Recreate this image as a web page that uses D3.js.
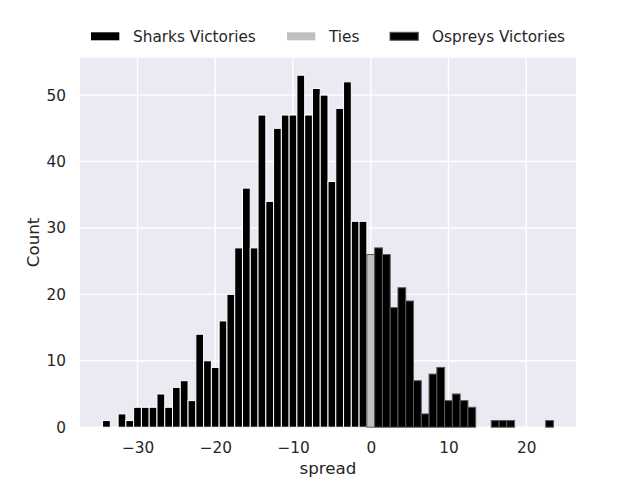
<!DOCTYPE html>
<html>
<head>
<meta charset="utf-8">
<script src="https://cdn.jsdelivr.net/npm/d3@7"></script>
<style>
  html, body { margin: 0; padding: 0; background: #ffffff; }
  svg { display: block; font-family: "DejaVu Sans", sans-serif; }
</style>
</head>
<body>
<svg id="chart" width="640" height="480"></svg>
<script>
// ---- data ----
const spreads = [-34,-33,-32,-31,-30,-29,-28,-27,-26,-25,-24,-23,-22,-21,-20,-19,-18,-17,-16,-15,-14,-13,-12,-11,-10,-9,-8,-7,-6,-5,-4,-3,-2,-1,0,1,2,3,4,5,6,7,8,9,10,11,12,13,14,15,16,17,18,19,20,21,22,23];
const counts  = [1,0,2,1,3,3,3,5,3,6,7,4,14,10,9,16,20,27,36,27,47,34,45,47,47,53,47,51,50,37,48,52,31,31,26,27,26,18,21,19,7,2,8,9,4,5,4,3,0,0,1,1,1,0,0,0,0,1];
const xTicks = [-30, -20, -10, 0, 10, 20];
const yTicks = [0, 10, 20, 30, 40, 50];
const seriesNames = ["Sharks Victories", "Ties", "Ospreys Victories"];
const seriesFill = ["#000000", "#c0c0c0", "#000000"];
const seriesEdge = ["#ffffff", "#5a5a5a", "#5a5a5a"];
const xLabel = "spread";
const yLabel = "Count";

// ---- layout ----
const svg = d3.select("#chart");
const L = 80, R = 576, T = 57.6, B = 427.2;
const binW = 1;
const xMin = d3.min(spreads) - binW / 2, xMax = d3.max(spreads) + binW / 2;
const xPad = (xMax - xMin) * 0.05;
const x = d3.scaleLinear().domain([xMin - xPad, xMax + xPad]).range([L, R]);
const y = d3.scaleLinear().domain([0, d3.max(counts) * 1.05]).range([B, T]);

const textColor = "#262626";

// background
svg.append("rect").attr("x", L).attr("y", T).attr("width", R - L).attr("height", B - T).attr("fill", "#eaeaf2");

// grid
const grid = svg.append("g");
grid.selectAll(".gx").data(xTicks).join("line")
  .attr("x1", d => x(d)).attr("x2", d => x(d)).attr("y1", T).attr("y2", B)
  .attr("stroke", "#ffffff").attr("stroke-width", 1.4);
grid.selectAll(".gy").data(yTicks).join("line")
  .attr("x1", L).attr("x2", R).attr("y1", d => y(d)).attr("y2", d => y(d))
  .attr("stroke", "#ffffff").attr("stroke-width", 1.4);

// bars
const data = spreads.map((s, i) => ({ s, c: counts[i], k: s < 0 ? 0 : (s === 0 ? 1 : 2) }))
  .filter(d => d.c > 0);
svg.append("g").selectAll("rect").data(data).join("rect")
  .attr("x", d => x(d.s - binW / 2))
  .attr("width", d => x(d.s + binW / 2) - x(d.s - binW / 2))
  .attr("y", d => y(d.c))
  .attr("height", d => y(0) - y(d.c))
  .attr("fill", d => seriesFill[d.k])
  .attr("stroke", d => seriesEdge[d.k])
  .attr("stroke-width", 1);

// axes
const xAxis = d3.axisBottom(x).tickValues(xTicks).tickSize(0).tickPadding(14.6);
const gx = svg.append("g").attr("transform", `translate(0,${B})`).call(xAxis);
const yAxis = d3.axisLeft(y).tickValues(yTicks).tickSize(0).tickPadding(14);
const gy = svg.append("g").attr("transform", `translate(${L},0)`).call(yAxis);
[gx, gy].forEach(g => {
  g.select(".domain").remove();
  g.selectAll("text").attr("font-size", "15.3px").attr("fill", textColor)
    .attr("font-family", "DejaVu Sans, sans-serif");
});

// axis labels
svg.append("text").attr("x", (L + R) / 2).attr("y", 473.5).attr("text-anchor", "middle")
  .attr("font-size", "16.7px").attr("fill", textColor).text(xLabel);
svg.append("text").attr("transform", `translate(38.5,${(T + B) / 2}) rotate(-90)`)
  .attr("text-anchor", "middle").attr("font-size", "16.7px").attr("fill", textColor).text(yLabel);

// legend
const legX = [91, 287, 390];
const leg = svg.append("g");
seriesNames.forEach((n, i) => {
  leg.append("rect").attr("x", legX[i]).attr("y", 32.3).attr("width", 28.3).attr("height", 8)
    .attr("fill", seriesFill[i]).attr("stroke", i === 2 ? seriesEdge[i] : "none").attr("stroke-width", 1);
  leg.append("text").attr("x", legX[i] + 42).attr("y", 41.7)
    .attr("font-size", "15.3px").attr("fill", textColor).text(n);
});
</script>
</body>
</html>
